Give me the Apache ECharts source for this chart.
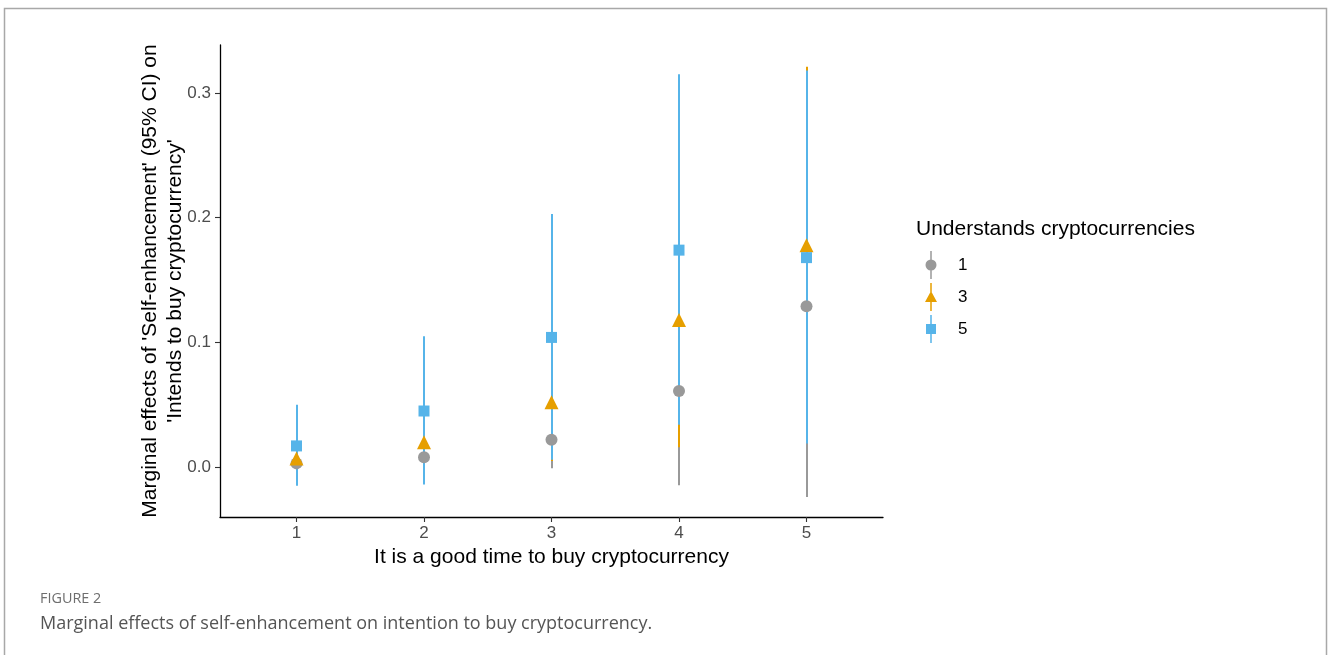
<!DOCTYPE html>
<html>
<head>
<meta charset="utf-8">
<script src="https://cdn.jsdelivr.net/npm/echarts@6/dist/echarts.min.js"></script>
<style>
html,body{margin:0;padding:0;background:#fff;}
#chart{width:1328px;height:655px;}
</style>
</head>
<body>
<div id="chart"></div>
<script>
// ---- data ----
const xCats = [1, 2, 3, 4, 5];
const groupNames = ['1', '3', '5'];
const est1 = [0.003, 0.008, 0.022, 0.061, 0.129];
const lo1  = [-0.012, -0.008, -0.001, -0.0145, -0.024];
const hi1  = [0.018, 0.024, 0.045, 0.137, 0.282];
const est3 = [0.007, 0.020, 0.052, 0.118, 0.178];
const lo3  = [-0.010, -0.004, 0.005, 0.016, 0.036];
const hi3  = [0.024, 0.044, 0.099, 0.220, 0.321];
const est5 = [0.017, 0.045, 0.104, 0.174, 0.168];
const lo5  = [-0.015, -0.014, 0.006, 0.034, 0.019];
const hi5  = [0.050, 0.105, 0.203, 0.315, 0.318];
const yTicks = [0, 0.1, 0.2, 0.3];

const colors = ['#999999', '#E69F00', '#56B4E9'];
const FONT = 'Liberation Sans';

const iconCircle = 'path://M5.25 0 L6.75 0 L6.75 9 L5.25 9 Z M5.25 19 L6.75 19 L6.75 28 L5.25 28 Z M0.5 14 A5.5 5.5 0 1 1 11.5 14 A5.5 5.5 0 1 1 0.5 14 Z';
const iconTri = 'path://M5.25 0 L6.75 0 L6.75 9 L5.25 9 Z M5.25 18 L6.75 18 L6.75 28 L5.25 28 Z M0 19 L6 8 L12 19 Z';
const iconSq = 'path://M5.25 0 L6.75 0 L6.75 9.5 L5.25 9.5 Z M5.25 18.5 L6.75 18.5 L6.75 28 L5.25 28 Z M1 9 L11 9 L11 19 L1 19 Z';

function errSeries(name, lo, hi, color, z) {
  return {
    type: 'custom',
    name: name,
    z: z,
    data: xCats.map((x, i) => [x, lo[i], hi[i]]),
    encode: { x: 0, y: [1, 2] },
    renderItem: function (params, api) {
      const a = api.coord([api.value(0), api.value(1)]);
      const b = api.coord([api.value(0), api.value(2)]);
      const xc = Math.round(a[0]);
      return {
        type: 'rect',
        shape: { x: xc - 1, y: b[1], width: 2, height: a[1] - b[1] },
        style: { fill: color }
      };
    },
    silent: true
  };
}
function ptSeries(name, est, color, symbol, size, z) {
  return {
    type: 'scatter',
    name: name,
    z: z,
    symbol: symbol,
    symbolSize: size,
    itemStyle: { color: color, opacity: 1 },
    data: xCats.map((x, i) => [x, est[i]])
  };
}

const chart = echarts.init(document.getElementById('chart'), null, { renderer: 'canvas' });
chart.setOption({
  backgroundColor: '#ffffff',
  animation: false,
  grid: { left: 220, right: 445, top: 45, bottom: 138 },
  xAxis: {
    type: 'value',
    min: 0.4, max: 5.6,
    name: 'It is a good time to buy cryptocurrency',
    nameLocation: 'middle',
    nameGap: 30,
    nameTextStyle: { color: '#000', fontSize: 21, fontFamily: FONT },
    axisLine: { show: true, onZero: false, lineStyle: { color: '#000', width: 1.3 } },
    axisTick: { show: true, length: 5, customValues: xCats, lineStyle: { color: '#333', width: 1.1 } },
    axisLabel: { customValues: xCats, color: '#4d4d4d', fontSize: 17, fontFamily: FONT, margin: 8 },
    splitLine: { show: false }
  },
  yAxis: {
    type: 'value',
    min: -0.04, max: 0.3385,
    name: "Marginal effects of 'Self-enhancement' (95% CI) on\n'Intends to buy cryptocurrency'",
    nameLocation: 'middle',
    nameGap: 32,
    nameMoveOverlap: false,
    nameTextStyle: { color: '#000', fontSize: 21, fontFamily: FONT, lineHeight: 25 },
    axisLine: { show: true, onZero: false, lineStyle: { color: '#000', width: 1.3 } },
    axisTick: { show: true, length: 5, customValues: yTicks, lineStyle: { color: '#333', width: 1.1 } },
    axisLabel: { customValues: yTicks, color: '#4d4d4d', fontSize: 17, fontFamily: FONT, margin: 9,
      formatter: v => v.toFixed(1) },
    splitLine: { show: false }
  },
  legend: {
    orient: 'vertical',
    left: 920, top: 246,
    itemWidth: 12, itemHeight: 28, itemGap: 4,
    selectedMode: false,
    textStyle: { color: '#000', fontSize: 17, fontFamily: FONT, padding: [0, 0, 0, 16] },
    data: [
      { name: groupNames[0], icon: iconCircle, itemStyle: { color: colors[0] } },
      { name: groupNames[1], icon: iconTri, itemStyle: { color: colors[1] } },
      { name: groupNames[2], icon: iconSq, itemStyle: { color: colors[2] } }
    ]
  },
  graphic: [
    { type: 'rect', silent: true,
      shape: { x: 4.5, y: 8.5, width: 1322, height: 700 },
      style: { fill: 'none', stroke: '#a8a8a8', lineWidth: 1.5 } },
    { type: 'text', x: 916, y: 219,
      style: { text: 'Understands cryptocurrencies', fill: '#000', font: '21px "Liberation Sans"' } },
    { type: 'text', x: 40, y: 592,
      style: { text: 'FIGURE 2', fill: '#6e6e6e', font: '14.4px "Open Sans"' } },
    { type: 'text', x: 40, y: 615,
      style: { text: 'Marginal effects of self-enhancement on intention to buy cryptocurrency.', fill: '#555555', font: '18px "Open Sans"' } }
  ],
  series: [
    errSeries(groupNames[0], lo1, hi1, colors[0], 1),
    errSeries(groupNames[1], lo3, hi3, colors[1], 2),
    errSeries(groupNames[2], lo5, hi5, colors[2], 3),
    ptSeries(groupNames[0], est1, colors[0], 'circle', 12, 10),
    ptSeries(groupNames[1], est3, colors[1], 'triangle', 14, 11),
    ptSeries(groupNames[2], est5, colors[2], 'rect', 11, 12)
  ]
});
</script>
</body>
</html>
